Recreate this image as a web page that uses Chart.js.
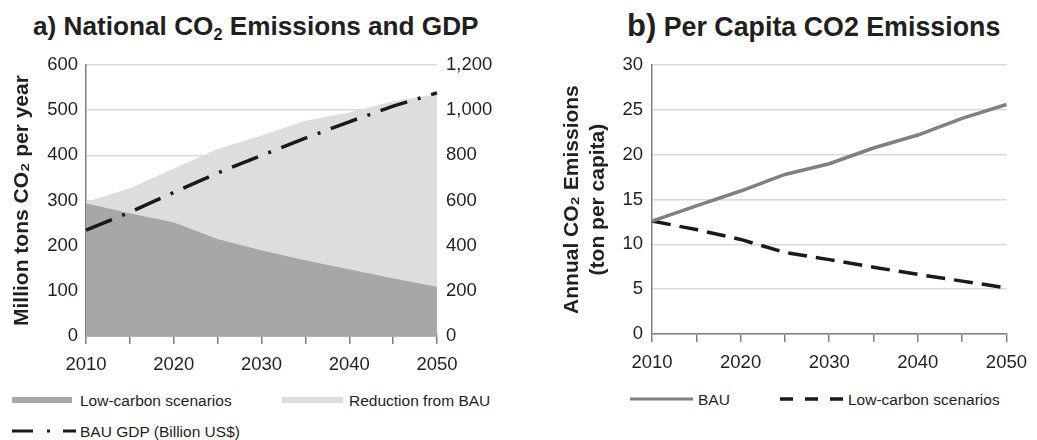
<!DOCTYPE html>
<html>
<head>
<meta charset="utf-8">
<script src="https://cdn.jsdelivr.net/npm/chart.js@4"></script>
<style>
  body { margin: 0; background: #fff; width: 1037px; height: 440px; position: relative; overflow: hidden;
         font-family: "Liberation Sans", Arial, sans-serif; color: #231f20; }
  .title { position: absolute; font-weight: bold; white-space: nowrap; line-height: 1; }
  .title sub { font-size: 0.62em; vertical-align: -0.28em; }
  canvas { position: absolute; }
  .leg { position: absolute; font-size: 15.5px; white-space: nowrap; line-height: 1; }
  .sw { position: absolute; }
</style>
</head>
<body>
<div class="title" id="ta" style="left:33px; top:13px; font-size:26.2px;">a) National CO<sub>2</sub> Emissions and GDP</div>
<div class="title" id="tb" style="left:627px; top:10px; font-size:26.8px;"><span style="font-size:31px;">b)</span> Per Capita CO2 Emissions</div>

<canvas id="chartA" width="520" height="331" style="left:0; top:45px;"></canvas>
<canvas id="chartB" width="517" height="331" style="left:520px; top:45px;"></canvas>

<!-- legend a -->
<div class="sw" style="left:12px; top:397px; width:60px; height:6px; background:#a6a7a9;"></div>
<div class="leg" style="left:80px; top:393px;">Low-carbon scenarios</div>
<div class="sw" style="left:282px; top:397px; width:61px; height:6px; background:#dcdddf;"></div>
<div class="leg" style="left:349px; top:393px;">Reduction from BAU</div>
<svg class="sw" style="left:12px; top:427px;" width="64" height="8">
  <line x1="0" y1="4" x2="64" y2="4" stroke="#1a1a1a" stroke-width="3" stroke-dasharray="21 14 3 13 13"/>
</svg>
<div class="leg" style="left:80px; top:424px;">BAU GDP (Billion US$)</div>

<!-- legend b -->
<svg class="sw" style="left:630px; top:395px;" width="63" height="8">
  <line x1="0" y1="4" x2="63" y2="4" stroke="#808080" stroke-width="3"/>
</svg>
<div class="leg" style="left:698px; top:392px;">BAU</div>
<svg class="sw" style="left:780px; top:395px;" width="63" height="8">
  <line x1="0" y1="4" x2="63" y2="4" stroke="#1a1a1a" stroke-width="3.5" stroke-dasharray="13 12 13 12 13"/>
</svg>
<div class="leg" style="left:848px; top:392px;">Low-carbon scenarios</div>

<script>
// values
const years = ['2010', '2015', '2020', '2025', '2030', '2035', '2040', '2045', '2050'];

// a) national CO2 (Mt/yr), stacked areas + GDP on right axis
const lowCarbonCO2 = [294, 272, 252, 215, 190, 168, 148, 128, 109];
const reductionCO2 = [3, 55, 119, 199, 254, 309, 347, 392, 426];
const gdpBAU = [469, 548, 636, 722, 800, 876, 949, 1018, 1077];

// b) per capita CO2 (t/person)
const perCapitaBAU = [12.6, 14.3, 15.95, 17.8, 19.0, 20.75, 22.2, 24.05, 25.6];
const perCapitaLow = [12.6, 11.65, 10.55, 9.1, 8.3, 7.45, 6.65, 5.9, 5.15];

const INK = '#231f20';
const AXIS = '#808080';
const GRID = '#d9d9d9';

Chart.defaults.font.family = '"Liberation Sans", Arial, sans-serif';
Chart.defaults.color = INK;
Chart.defaults.animation = false;

const xAxis = {
  type: 'category',
  offset: false,
  grid: { drawOnChartArea: false, drawTicks: true, tickLength: 8, color: AXIS, lineWidth: 1.5 },
  border: { color: AXIS, width: 1.5 },
  ticks: {
    font: { size: 18.5 },
    padding: 10,
    maxRotation: 0,
    autoSkip: false,
    callback: (v, i) => (i % 2 === 0 ? years[i] : '')
  },
  afterFit: (s) => { s.height = 40; }
};

new Chart(document.getElementById('chartA'), {
  type: 'line',
  data: {
    labels: years,
    datasets: [
      {
        label: 'BAU GDP (Billion US$)',
        data: gdpBAU,
        yAxisID: 'y1',
        borderColor: '#1a1a1a',
        borderWidth: 3.5,
        borderDash: [28, 11, 3, 11],
        fill: false,
        pointRadius: 0,
        tension: 0
      },
      {
        label: 'Low-carbon scenarios',
        data: lowCarbonCO2,
        yAxisID: 'y',
        backgroundColor: '#a6a7a9',
        borderWidth: 0,
        fill: 'origin',
        pointRadius: 0,
        tension: 0
      },
      {
        label: 'Reduction from BAU',
        data: reductionCO2,
        yAxisID: 'y',
        backgroundColor: '#dcdddf',
        borderWidth: 0,
        fill: '-1',
        pointRadius: 0,
        tension: 0
      }
    ]
  },
  options: {
    responsive: false,
    layout: { padding: { top: 17, left: 0, right: 0, bottom: 0 } },
    plugins: { legend: { display: false }, tooltip: { enabled: false } },
    scales: {
      x: xAxis,
      y: {
        position: 'left',
        stacked: true,
        min: 0, max: 600,
        ticks: { stepSize: 100, font: { size: 18.5 }, padding: 8 },
        grid: { color: GRID, lineWidth: 1.5, drawTicks: false },
        border: { color: AXIS, width: 1.5 },
        title: {
          display: true,
          text: 'Million tons CO\u2082 per year',
          font: { size: 21, weight: 'bold' },
          padding: { top: 10, bottom: 0 }
        },
        afterFit: (s) => { s.width = 86; }
      },
      y1: {
        position: 'right',
        min: 0, max: 1200,
        ticks: {
          stepSize: 200,
          font: { size: 18.5 },
          padding: 9,
          callback: (v) => v.toLocaleString('en-US')
        },
        grid: { drawOnChartArea: false, drawTicks: false },
        border: { display: false },
        afterFit: (s) => { s.width = 83; }
      }
    }
  }
});

new Chart(document.getElementById('chartB'), {
  type: 'line',
  data: {
    labels: years,
    datasets: [
      {
        label: 'BAU',
        data: perCapitaBAU,
        borderColor: '#808080',
        borderWidth: 3.5,
        fill: false,
        pointRadius: 0,
        tension: 0
      },
      {
        label: 'Low-carbon scenarios',
        data: perCapitaLow,
        borderColor: '#1a1a1a',
        borderWidth: 3.5,
        borderDash: [19, 9],
        fill: false,
        pointRadius: 0,
        tension: 0
      }
    ]
  },
  options: {
    responsive: false,
    layout: { padding: { top: 17, left: 0, right: 23, bottom: 2 } },
    plugins: { legend: { display: false }, tooltip: { enabled: false } },
    scales: {
      x: xAxis,
      y: {
        min: 0, max: 30,
        ticks: { stepSize: 5, font: { size: 18.5 }, padding: 9 },
        grid: { color: GRID, lineWidth: 1.5, drawTicks: false },
        border: { color: AXIS, width: 1.5 },
        title: {
          display: true,
          text: ['Annual CO\u2082 Emissions', '(ton per capita)'],
          font: { size: 21, weight: 'bold', lineHeight: 1.2 },
          padding: { top: 40, bottom: 0 }
        },
        afterFit: (s) => { s.width = 132; }
      }
    }
  }
});
</script>
</body>
</html>
